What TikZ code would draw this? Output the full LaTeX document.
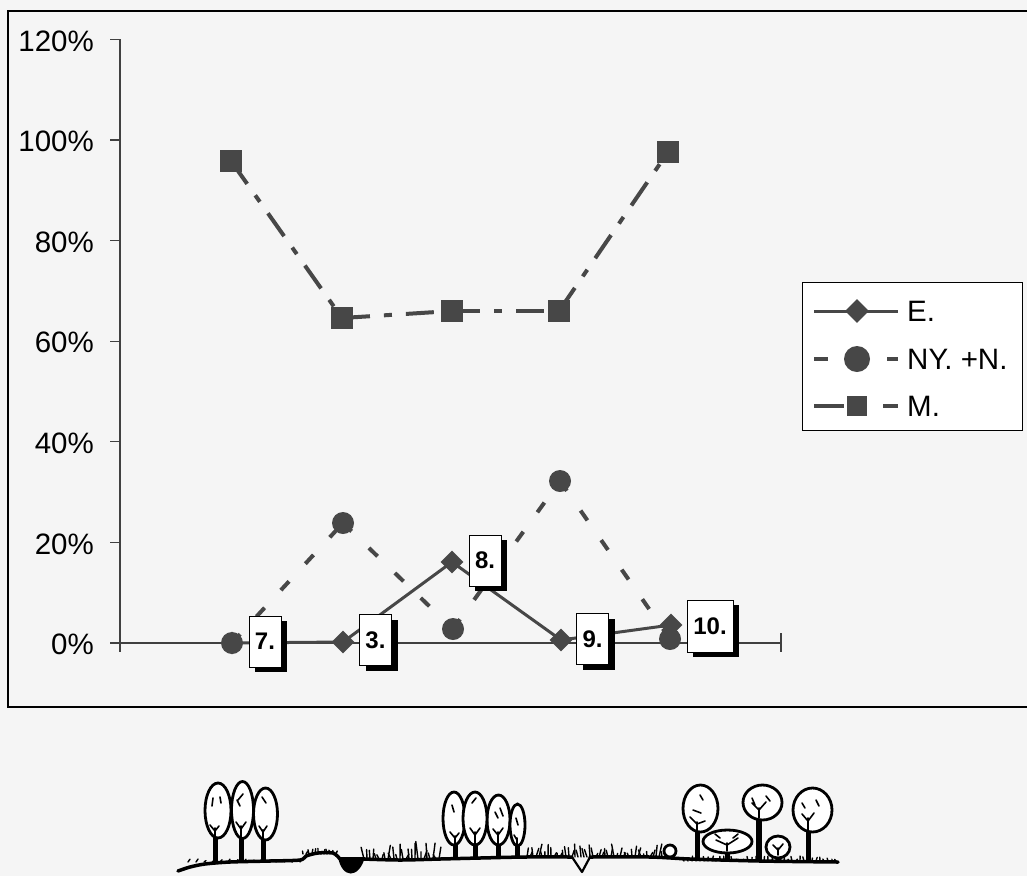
\documentclass[tikz,border=0pt]{standalone}
\usepackage{fontspec}
\setmainfont{Liberation Sans}
\usetikzlibrary{shapes.geometric,shadows}
\newcommand\crownat[4]{\draw[crownst] (#1,#2) ellipse [x radius=#3, y radius=#4];}
\begin{document}
\begin{tikzpicture}[x=1pt,y=-1pt,
  axisst/.style={line width=1.3pt, draw=black!75},
  tlab/.style={anchor=east, inner sep=0pt, font=\fontsize{29.5}{30}\selectfont},
  legtext/.style={anchor=west, inner sep=0pt, font=\fontsize{29.5}{30}\selectfont},
  eline/.style={line width=3pt, draw=black!72},
  nline/.style={line width=4pt, draw=black!72, dash pattern=on 12pt off 24pt},
  mline/.style={line width=4pt, draw=black!72, dash pattern=on 28pt off 14pt on 8pt off 14pt},
  dmark/.style={diamond, aspect=1, fill=black!72, minimum width=23pt, minimum height=23pt, inner sep=0pt},
  cmark/.style={circle, fill=black!72, minimum size=22pt, inner sep=0pt},
  smark/.style={rectangle, fill=black!72, minimum size=22pt, inner sep=0pt},
  lbl/.style={draw=black, line width=0.9pt, fill=white, minimum width=32pt, minimum height=51pt, inner sep=0pt,
    font=\bfseries\fontsize{24}{25}\selectfont,
    drop shadow={fill=black, opacity=1, shadow xshift=6pt, shadow yshift=-5pt}},
  crownst/.style={line width=2.8pt, draw=black, fill=white},
  trunkst/.style={line width=5pt, draw=black},
  branchst/.style={line width=1.6pt, draw=black, line cap=round},
  grassst/.style={line width=1.4pt, draw=black, line cap=round},
  groundst/.style={line width=3.5pt, draw=black, line cap=round, line join=round}
]
\useasboundingbox (0,0) rectangle (1027,876);
\fill[white!96!black] (0,0) rectangle (1027,876);

% outer frame
\draw[line width=1.6pt] (1027,11) -- (8,11) -- (8,707) -- (1027,707);

% axes
\coordinate (ytop) at (120,39);
\coordinate (ybot) at (120,652);
\coordinate (x0) at (120,643);
\coordinate (xend) at (781,643);
\draw[axisst] (ytop) -- (ybot);
\draw[axisst] (x0) -- (xend);
\draw[axisst] (781,633) -- (781,652);
\foreach \v in {0,20,...,120}{
  \pgfmathsetmacro\yy{643-5.03*\v}
  \draw[axisst] (110,\yy) -- (120,\yy);
  \node[tlab] (t\v) at (94,\yy+1.5) {\v\%};
}

% data points
\coordinate (e7) at (232,643);
\coordinate (e3) at (343,642);
\coordinate (e8) at (452,562);
\coordinate (e9) at (561,640);
\coordinate (e10) at (671,625);
\coordinate (n7) at (232,643);
\coordinate (n3) at (343,523);
\coordinate (n8) at (453,629);
\coordinate (n9) at (560,481);
\coordinate (n10) at (670,639);
\coordinate (m7) at (231,161);
\coordinate (m3) at (342,318);
\coordinate (m8) at (452,311);
\coordinate (m9) at (559,311);
\coordinate (m10) at (668,152);

% series E
\draw[eline] (e7) -- (e3);
\draw[eline] (e3) -- (e8);
\draw[eline] (e8) -- (e9);
\draw[eline] (e9) -- (e10);
\foreach \p in {7,3,8,9,10}{ \node[dmark] (de\p) at (e\p) {}; }

% series NY. +N.
\draw[nline] (n7) -- (n3);
\draw[nline] (n3) -- (n8);
\draw[nline] (n8) -- (n9);
\draw[nline] (n9) -- (n10);
\foreach \p in {7,3,8,9,10}{ \node[cmark] (cn\p) at (n\p) {}; }

% series M.
\draw[mline] (m7) -- (m3);
\draw[mline] (m3) -- (m8);
\draw[mline] (m8) -- (m9);
\draw[mline] (m9) -- (m10);
\foreach \p in {7,3,8,9,10}{ \node[smark] (sm\p) at (m\p) {}; }

% data labels
\node[lbl] (l7) at (265,641.5) {7.};
\node[lbl] (l3) at (375.5,640) {3.};
\node[lbl] (l8) at (485,560.5) {8.};
\node[lbl] (l9) at (592.5,639) {9.};
\node[lbl, minimum width=46pt, minimum height=52pt] (l10) at (710,626) {10.};

% legend
\node[draw=black, line width=1pt, fill=white, minimum width=220pt, minimum height=148pt, inner sep=0pt] (legend) at (912,356) {};
\coordinate (lea) at (814,311); \coordinate (leb) at (898,311);
\draw[eline] (lea) -- (leb);
\node[dmark, minimum width=24pt, minimum height=24pt] (led) at (857,311) {};
\node[legtext] (let) at (907,311) {E.};
\coordinate (lna) at (814,359); \coordinate (lnb) at (828,359);
\coordinate (lnc) at (887,359); \coordinate (lnd) at (898,359);
\draw[line width=4pt, draw=black!72] (lna) -- (lnb);
\draw[line width=4pt, draw=black!72] (lnc) -- (lnd);
\node[cmark, minimum size=26pt] (lnm) at (857,359) {};
\node[legtext] (lnt) at (907,359) {NY. +N.};
\coordinate (lma) at (814,406); \coordinate (lmb) at (844,406);
\coordinate (lmc) at (883,406); \coordinate (lmd) at (898,406);
\draw[line width=4pt, draw=black!72] (lma) -- (lmb);
\draw[line width=4pt, draw=black!72] (lmc) -- (lmd);
\node[smark, minimum size=20pt] (lmm) at (857,406) {};
\node[legtext] (lmt) at (907,406) {M.};

% ---- landscape profile ----
% ground
\draw[groundst] plot[smooth, tension=0.5] coordinates {(178,871) (190,867) (205,864) (230,862) (270,861) (300,860) (306,856) (318,853) (333,853) (340,859)};
\draw[groundst] plot[smooth, tension=0.5] coordinates {(363,859) (400,860) (440,859) (480,858) (525,857) (572,857)};
\draw[line width=2.2pt, line join=round] (572,857) -- (582,872) -- (590,857);
\draw[groundst] plot[smooth, tension=0.5] coordinates {(590,857) (650,857) (690,859) (760,861) (838,862)};
\fill[black] (338,857) .. controls (342,879) and (359,879) .. (365,857) -- cycle;

% grass
\pgfmathsetseed{42}
\foreach \x in {303,306,...,337}{
  \pgfmathsetmacro\h{2+4*rnd}\pgfmathsetmacro\dx{3*rnd-1.5}
  \draw[grassst] (\x,854) -- ++(\dx,-\h);}
\foreach \x in {364,367,...,440}{
  \pgfmathsetmacro\h{4+14*rnd}\pgfmathsetmacro\dx{6*rnd-3}
  \draw[grassst] (\x,859) -- ++(\dx,-\h);}
\foreach \x in {527,530,...,665}{
  \pgfmathsetmacro\h{3+10*rnd}\pgfmathsetmacro\dx{6*rnd-3}
  \draw[grassst] (\x,857) -- ++(\dx,-\h);}
\foreach \x in {684,688,...,836}{
  \pgfmathsetmacro\h{1+4*rnd}\pgfmathsetmacro\dx{3*rnd-1.5}
  \draw[grassst] (\x,861) -- ++(\dx,-\h);}
\foreach \x in {188,196,...,300}{
  \pgfmathsetmacro\h{1+2*rnd}
  \draw[grassst] (\x,862) -- ++(2,-\h);}

% left tree group
\draw[trunkst] (215,836) -- (215,863);
\draw[trunkst] (241,836) -- (241,862);
\draw[trunkst] (263,838) -- (263,861);
\crownat{218}{810.5}{13}{27.5}
\crownat{265.5}{814}{12}{26}
\crownat{242.5}{810}{11}{28.5}
\draw[branchst] (215,837) -- (215,828) (215,831) -- (210,825) (215,831) -- (219,826);
\draw[branchst] (213,798) -- (212,806) (220,797) -- (221,803);
\draw[branchst] (241,837) -- (241,826) (241,829) -- (236,822) (241,829) -- (246,822);
\draw[branchst] (238,800) -- (243,794) (240,806) -- (237,800);
\draw[branchst] (263,838) -- (263,830) (263,832) -- (259,826) (263,832) -- (267,826);
\draw[branchst] (262,797) -- (266,803);

% middle tree group
\draw[trunkst] (455,843) -- (455,858);
\draw[trunkst] (475,843) -- (475,858);
\draw[trunkst] (498,843) -- (498,858);
\draw[trunkst] (517,844) -- (517,858);
\crownat{454}{818.5}{11}{26.5}
\crownat{498.5}{820}{11.5}{25}
\crownat{517.5}{825}{7.5}{21}
\crownat{475}{818.5}{12}{26.5}
\draw[branchst] (455,845) -- (455,836) (455,838) -- (450,832) (455,838) -- (459,833) (452,805) -- (454,812);
\draw[branchst] (475,845) -- (475,832) (475,835) -- (470,828) (475,835) -- (480,828) (472,803) -- (476,798);
\draw[branchst] (498,845) -- (498,832) (498,835) -- (493,829) (498,835) -- (503,828) (500,808) -- (503,816) (495,812) -- (498,818);
\draw[branchst] (517,846) -- (517,838) (517,840) -- (514,835) (516,818) -- (518,825);

% right tree group
\draw[trunkst] (697,830) -- (697,861);
\draw[line width=6pt] (759,818) -- (759,861);
\draw[trunkst] (808,830) -- (808,861);
\draw[trunkst] (727,851) -- (727,861);
\draw[trunkst] (778,857) -- (778,861);
\crownat{700.5}{808.5}{17.5}{23.5}
\crownat{762.5}{802.5}{19.5}{17.5}
\crownat{812.5}{810}{19.5}{22}
\crownat{727.5}{841.5}{24.5}{11.5}
\crownat{778}{847}{12}{11}
\draw[crownst] (670,851) circle [radius=6];
\draw[branchst] (697,830) -- (697,822) (697,824) -- (690,817) (697,824) -- (705,821) (693,810) -- (701,813) (700,795) -- (703,800);
\draw[branchst] (759,818) -- (759,808) (759,810) -- (752,803) (759,810) -- (766,802) (752,798) -- (755,805) (766,796) -- (770,801);
\draw[branchst] (808,830) -- (808,818) (808,821) -- (802,814) (808,821) -- (814,813) (816,800) -- (819,806) (802,803) -- (805,808);
\draw[branchst] (727,851) -- (727,843) (727,845) -- (716,840) (727,845) -- (738,838) (720,838) -- (715,834) (733,838) -- (738,834);
\draw[branchst] (778,855) -- (778,848) (778,850) -- (773,845) (778,850) -- (783,844);
\end{tikzpicture}
\end{document}
